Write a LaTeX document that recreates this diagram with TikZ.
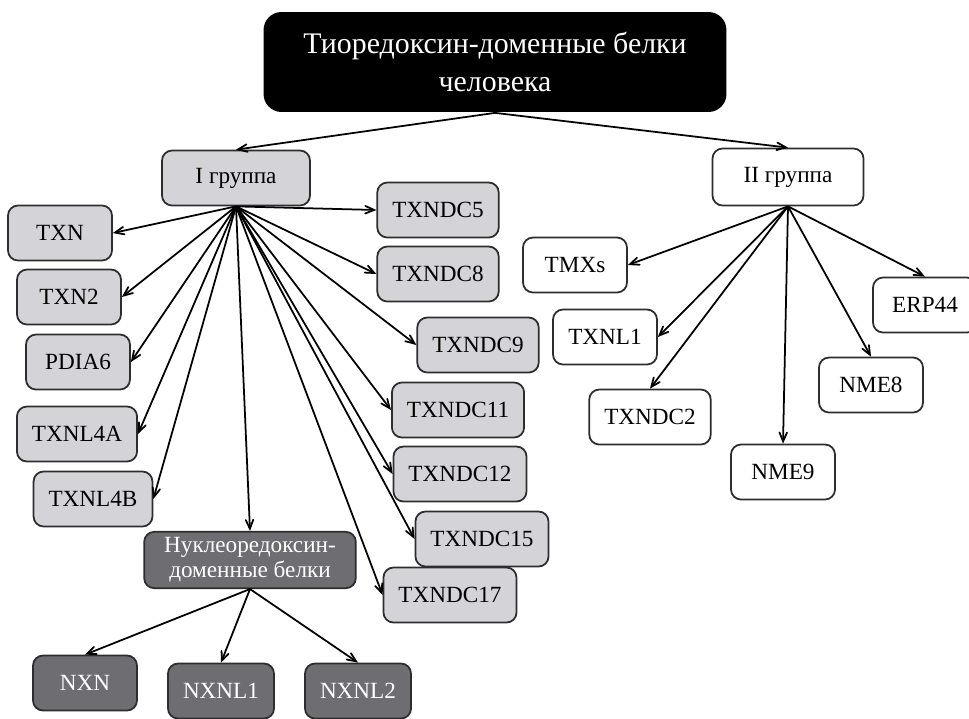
\documentclass[tikz,border=0pt]{standalone}
\usepackage{fontspec}
\setmainfont{Liberation Serif}
\usepackage{tikz}
\usetikzlibrary{arrows}
\definecolor{lightbox}{RGB}{212,212,216}
\definecolor{darkbox}{RGB}{110,110,114}
\definecolor{edgegrey}{RGB}{45,45,45}

\begin{document}
\begin{tikzpicture}[x=0.02cm,y=-0.02cm,line width=1pt,>=angle 45,
  box/.style={shape=rectangle,rounded corners=0.2cm,draw=edgegrey,line width=1pt,
    minimum width=2.08cm,minimum height=1.1cm,inner xsep=0.3cm,
    font=\fontsize{13.2}{14.2}\selectfont},
  gbox/.style={box,fill=lightbox},
  wbox/.style={box,fill=white},
  dbox/.style={box,fill=darkbox,text=white,align=center}]
\useasboundingbox (0,0) rectangle (969,718);
\node (title) at (495,62) [shape=rectangle,rounded corners=0.36cm,fill=black,text=white,
  minimum width=9.26cm,minimum height=2cm,align=center,
  font=\fontsize{17}{21.5}\selectfont] {Тиоредоксин-доменные белки\\человека};
% I group
\node (g1) at (236,178) [gbox,minimum width=2.96cm] {I группа};
\node (txn) at (60,233) [gbox] {TXN};
\node (txn2) at (69,297) [gbox] {TXN2};
\node (pdia6) at (78,362) [gbox] {PDIA6};
\node (txnl4a) at (77,434) [gbox] {TXNL4A};
\node (txnl4b) at (93,499) [gbox] {TXNL4B};
\node (txndc5) at (438,210) [gbox] {TXNDC5};
\node (txndc8) at (438,274) [gbox] {TXNDC8};
\node (txndc9) at (478,345) [gbox] {TXNDC9};
\node (txndc11) at (458,410) [gbox] {TXNDC11};
\node (txndc12) at (460,474) [gbox] {TXNDC12};
\node (txndc15) at (482,539) [gbox] {TXNDC15};
\node (txndc17) at (450,595) [gbox] {TXNDC17};
\node (nrx) at (250,560) [dbox,inner xsep=0.4cm] {Нуклеоредоксин-\\доменные белки};
\node (nxn) at (85,683) [dbox] {NXN};
\node (nxnl1) at (221,691) [dbox] {NXNL1};
\node (nxnl2) at (358,691) [dbox] {NXNL2};
% II group
\node (g2) at (788,177) [wbox,minimum width=3.02cm,minimum height=1.14cm] {II группа};
\node (tmxs) at (575,265) [wbox] {TMXs};
\node (txnl1) at (605,337) [wbox] {TXNL1};
\node (txndc2) at (650,417) [wbox] {TXNDC2};
\node (nme9) at (783,472) [wbox] {NME9};
\node (nme8) at (871,385) [wbox] {NME8};
\node (erp44) at (925,305) [wbox] {ERP44};
\draw [->] (title.south) -- (g1.north);
\draw [->] (title.south) -- (g2.north);
\draw [->] (g1.south) -- (txn.east);
\draw [->] (g1.south) -- (txn2.east);
\draw [->] (g1.south) -- (pdia6.east);
\draw [->] (g1.south) -- (txnl4a.east);
\draw [->] (g1.south) -- (txnl4b.east);
\draw [->] (g1.south) -- (nrx.north);
\draw [->] (g1.south) -- (txndc5.west);
\draw [->] (g1.south) -- (txndc8.west);
\draw [->] (g1.south) -- (txndc9.west);
\draw [->] (g1.south) -- (txndc11.west);
\draw [->] (g1.south) -- (txndc12.west);
\draw [->] (g1.south) -- (txndc15.west);
\draw [->] (g1.south) -- (txndc17.west);
\draw [->] (nrx.south) -- (nxn.north);
\draw [->] (nrx.south) -- (nxnl1.north);
\draw [->] (nrx.south) -- (nxnl2.north);
\draw [->] (g2.south) -- (tmxs.east);
\draw [->] (g2.south) -- (txnl1.east);
\draw [->] (g2.south) -- (txndc2.north);
\draw [->] (g2.south) -- (nme9.north);
\draw [->] (g2.south) -- (nme8.north);
\draw [->] (g2.south) -- (erp44.north);
\end{tikzpicture}
\end{document}
